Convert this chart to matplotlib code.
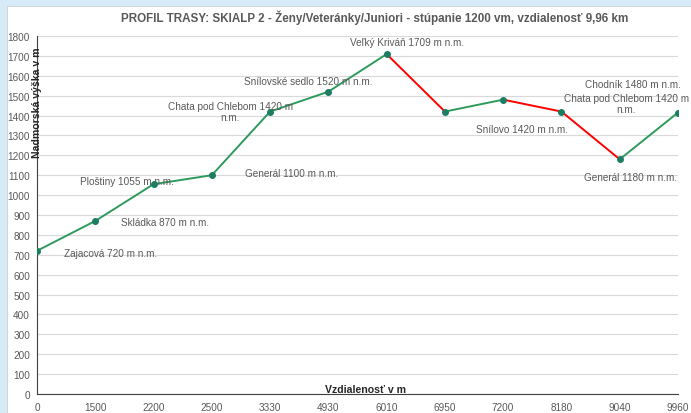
import matplotlib.pyplot as plt
from matplotlib.patches import Rectangle

plt.rcParams['font.family'] = ['Liberation Sans', 'DejaVu Sans']

vzdialenost = ["0", "1500", "2200", "2500", "3330", "4930", "6010", "6950", "7200", "8180", "9040", "9960"]
vyska = [720, 870, 1055, 1100, 1420, 1520, 1709, 1420, 1480, 1420, 1180, 1415]

# popisky bodov: (index bodu, text, posun v pixeloch)
popisky = [
    (0, "Zajacová 720 m n.m.", (74, -2)),
    (1, "Skládka 870 m n.m.", (70, -1)),
    (2, "Ploštiny 1055 m n.m.", (-27, 3)),
    (3, "Generál 1100 m n.m.", (80, 2)),
    (4, "Chata pod Chlebom 1420 m\nn.m.", (-40, 0)),
    (5, "Snílovské sedlo 1520 m n.m.", (-20, 11)),
    (6, "Veľký Kriváň 1709 m n.m.", (20, 12)),
    (8, "Snílovo 1420 m n.m.", (19, -29)),
    (9, "Chodník 1480 m n.m.", (71, 28)),
    (9, "Chata pod Chlebom 1420 m\nn.m.", (65, 8)),
    (10, "Generál 1180 m n.m.", (11, -18)),
]

fig = plt.figure(figsize=(6.91, 4.14), dpi=100)
fig.patch.set_facecolor('#d6eaf8')
fig.patches.append(Rectangle((7 / 691, 0), 1, 1 - 7 / 414, transform=fig.transFigure,
                             facecolor='white', edgecolor='#c8c8c8', linewidth=0.5, zorder=-5))

ax = fig.add_axes([37 / 691, 1 - 395 / 414, (678 - 37) / 691, (395 - 37) / 414])
ax.set_facecolor('none')

x = list(range(len(vzdialenost)))
for i in range(len(x) - 1):
    farba = '#2e9a5c' if vyska[i + 1] >= vyska[i] else '#ff0000'
    ax.plot(x[i:i + 2], vyska[i:i + 2], color=farba, linewidth=1.4, zorder=3)
ax.plot(x, vyska, linestyle='none', marker='o', markersize=4, color='#1d7d63', zorder=4)

for i, text, posun in popisky:
    ax.annotate(text, (x[i], vyska[i]), xytext=posun, textcoords='offset pixels',
                ha='center', va='center', fontsize=7.2, color='#595959',
                multialignment='center', linespacing=1.2)

ax.set_xlim(0, len(x) - 1)
ax.set_ylim(0, 1800)
ax.set_yticks(range(0, 1801, 100))
ax.set_xticks(x)
ax.set_xticklabels(vzdialenost)
ax.grid(axis='y', color='#d9d9d9', linewidth=0.8)
ax.set_axisbelow(True)
for s in ['top', 'right']:
    ax.spines[s].set_visible(False)
ax.spines['left'].set_color('#404040')
ax.spines['bottom'].set_color('#404040')
ax.tick_params(axis='both', labelsize=7.2, labelcolor='#595959', length=0)
ax.tick_params(axis='x', pad=6)
ax.tick_params(axis='y', pad=5)

ax.text(0, 1470, "Nadmorská výška v m", rotation=90, ha='center', va='center',
        fontsize=7.6, fontweight='bold', color='#262626')
ax.text(5.63, 0, "Vzdialenosť v m", ha='center', va='bottom',
        fontsize=7.6, fontweight='bold', color='#262626')

fig.text(375 / 691, 1 - 18 / 414,
         "PROFIL TRASY: SKIALP 2 - Ženy/Veteránky/Juniori - stúpanie 1200 vm, vzdialenosť 9,96 km",
         ha='center', va='center', fontsize=8.4, fontweight='bold', color='#595959')

fig.savefig('out.png', dpi=100)
